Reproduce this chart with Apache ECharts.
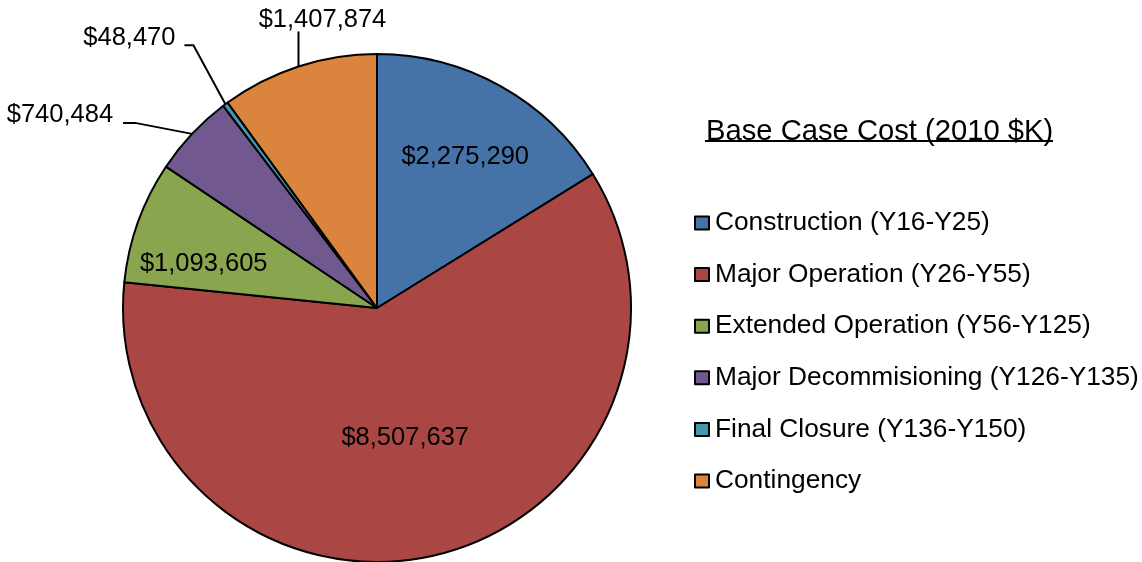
<!DOCTYPE html>
<html>
<head>
<meta charset="utf-8">
<script src="https://cdn.jsdelivr.net/npm/echarts@6/dist/echarts.min.js"></script>
<style>
html,body{margin:0;padding:0;background:#fff;}
#chart{width:1142px;height:562px;}
</style>
</head>
<body>
<div id="chart"></div>
<script>
const categories = [
  'Construction (Y16-Y25)',
  'Major Operation (Y26-Y55)',
  'Extended Operation (Y56-Y125)',
  'Major Decommisioning (Y126-Y135)',
  'Final Closure (Y136-Y150)',
  'Contingency'
];
const values = [2275290, 8507637, 1093605, 740484, 48470, 1407874];
const colors = ['#4572A7', '#AA4643', '#89A54E', '#71588F', '#4198AF', '#DB843D'];
const legendTitle = 'Base Case Cost (2010 $K)';

const FONT = '"Liberation Sans", Arial, sans-serif';
const insideIdx = [0, 1, 2];
// label nudges (styling only)
const insideShift = {0: [25, -37], 1: [-1, 3], 2: [-51, 0]};
const outsideGuide = {
  3: {pts: [[-57, -11], [-69, -11]], lx: -79, ly: -19, align: 'right'},
  4: {pts: [[-32, -59], [-41, -59]], lx: -50, ly: -66, align: 'right'},
  5: {pts: [[0, -35]], lx: 24, ly: -46, align: 'center'}
};

const data = categories.map((name, i) => {
  const inside = insideIdx.includes(i);
  return {
    name: name,
    value: values[i],
    itemStyle: {color: colors[i]},
    label: {position: inside ? 'inside' : 'outside'},
    labelLine: {show: !inside}
  };
});

const chart = echarts.init(document.getElementById('chart'), null, {renderer: 'canvas'});
chart.setOption({
  animation: false,
  backgroundColor: '#ffffff',
  title: {
    text: legendTitle,
    left: 701,
    top: 112,
    textStyle: {fontFamily: FONT, fontSize: 29.2, fontWeight: 'normal', color: '#000', lineHeight: 30}
  },
  graphic: [{
    type: 'line',
    shape: {x1: 705, y1: 141, x2: 1053, y2: 141},
    style: {stroke: '#000', lineWidth: 2}
  }],
  legend: {
    orient: 'vertical',
    left: 689,
    top: 205,
    itemWidth: 14,
    itemHeight: 13,
    itemGap: 25.6,
    icon: 'rect',
    selectedMode: false,
    textStyle: {fontFamily: FONT, fontSize: 26.3, color: '#000', lineHeight: 26, padding: [0, 0, 0, 1]},
    itemStyle: {borderColor: '#000', borderWidth: 2},
    data: categories
  },
  series: [{
    type: 'pie',
    center: [377, 308],
    radius: [0, 254],
    startAngle: 90,
    clockwise: true,
    avoidLabelOverlap: false,
    silent: true,
    emphasis: {disabled: true},
    itemStyle: {borderColor: '#000', borderWidth: 2},
    label: {
      show: true,
      color: '#000',
      fontFamily: FONT,
      fontSize: 25.5,
      formatter: p => '$' + p.value.toLocaleString('en-US')
    },
    labelLine: {lineStyle: {color: '#000', width: 2}, length: 20, length2: 10},
    labelLayout: function (params) {
      const i = params.dataIndex;
      if (insideShift[i]) {
        return {dx: insideShift[i][0], dy: insideShift[i][1]};
      }
      const g = outsideGuide[i];
      if (g && params.labelLinePoints) {
        const p0 = params.labelLinePoints[0];
        const pts = [[p0[0], p0[1]]].concat(g.pts.map(d => [p0[0] + d[0], p0[1] + d[1]]));
        return {
          x: p0[0] + g.lx,
          y: p0[1] + g.ly,
          align: g.align,
          verticalAlign: 'middle',
          labelLinePoints: pts
        };
      }
      return {};
    },
    data: data
  }]
});
</script>
</body>
</html>
